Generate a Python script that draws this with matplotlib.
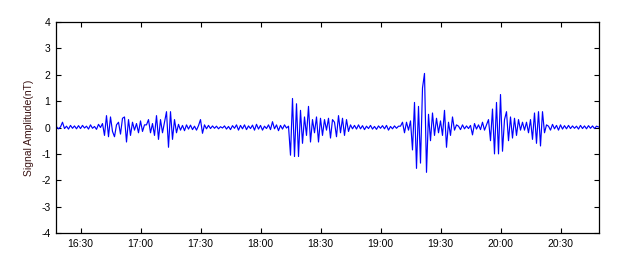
import matplotlib
matplotlib.use("Agg")
import matplotlib.pyplot as plt
import numpy as np
import pandas as pd

# ---- data (1-minute samples starting 16:18) ----
start_time = "2000-01-01 16:18"
sample_minutes = 1

quiet_start = [0.03, -0.05, 0.02, 0.2, -0.04, 0.05, -0.06, 0.08, -0.03, 0.06, -0.05, 0.07,
               -0.04, 0.08, -0.02, 0.05, -0.06, 0.1, -0.03, 0.04, -0.07, 0.12, 0.0]
burst_a = [0.15, -0.3, 0.45, -0.35, 0.4, -0.15, -0.35, 0.1, 0.2, -0.25, 0.35, 0.4,
           -0.55, 0.3, -0.3, 0.2]
gap_ab = [-0.1, 0.15, -0.2, 0.25, -0.15, 0.1]
burst_b = [0.1, 0.3, -0.2, 0.15, -0.3, 0.45, -0.45, 0.3, -0.2, 0.2, 0.6, -0.75,
           0.6, -0.45, 0.3, -0.2]
quiet_bc = [0.12, -0.1, 0.08, -0.12, 0.1, -0.06, 0.09, -0.08, 0.05, -0.1, 0.07, 0.3,
            -0.22, 0.1, -0.05, 0.08, -0.04, 0.06, -0.03, 0.05, -0.05, 0.03, -0.02, 0.06,
            -0.06, 0.04, -0.08, 0.07, -0.03, 0.1, -0.1, 0.08, -0.05, 0.1, -0.08, 0.06,
            -0.04, 0.09, -0.1, 0.12, -0.06, 0.08, -0.1, 0.05, -0.04, 0.1, -0.08, 0.22,
            -0.05, 0.1, -0.12, 0.08, -0.06, 0.1, -0.02]
burst_c = [0.05, -1.05, 1.1, -1.1, 0.9, -1.1, 0.65, -0.6, 0.4, -0.3, 0.8, -0.55,
           0.3, -0.2, 0.4, -0.55, 0.35, -0.3, 0.3, -0.1, 0.35, -0.4, 0.3, 0.2,
           -0.35, 0.45, -0.2, 0.35, -0.3, 0.3, -0.15, 0.1, -0.05]
quiet_cd = [0.08, -0.06, 0.1, -0.05, 0.07, -0.08, 0.05, -0.04, 0.08, -0.06, 0.04, -0.07,
            0.06, -0.03, 0.07, -0.05, 0.08, -0.1, 0.04, -0.05, 0.06, -0.03, 0.05]
burst_d = [0.05, 0.2, -0.2, 0.2, -0.1, 0.25, -0.85, 0.95, -1.55, 0.8, -1.35, 1.5,
           2.05, -1.7, 0.5, -0.5, 0.55, -0.3, 0.35, -0.2, 0.25, -0.3, 0.65, -0.75,
           0.2, -0.3, 0.4, -0.1, 0.1]
quiet_de = [0.05, -0.08, 0.1, -0.05, 0.06, -0.04, 0.08, -0.28, 0.15, -0.06, 0.1, -0.08,
            0.2, -0.1]
burst_e = [0.1, 0.3, -0.5, 0.7, -1.0, 0.95, -1.0, 1.25, -0.9, 0.3, 0.6, -0.5,
           0.4, -0.4, 0.35, -0.3, 0.3, -0.1, 0.2, -0.1, 0.2, -0.2, 0.3, -0.45,
           0.55, -0.6, 0.6, -0.7, 0.6, -0.2, 0.1]
quiet_end = [0.05, -0.1, 0.12, -0.05, 0.08, -0.1, 0.1, -0.06, 0.07, -0.05, 0.08, -0.04,
             0.06, -0.03, 0.05, -0.06, 0.08, -0.04, 0.06, -0.05, 0.07, -0.03, 0.06, -0.04,
             0.05, 0.02]

amplitude = (quiet_start + burst_a + gap_ab + burst_b + quiet_bc + burst_c + quiet_cd
             + burst_d + quiet_de + burst_e + quiet_end)

y_ticks = [-4, -3, -2, -1, 0, 1, 2, 3, 4]
x_tick_labels = ["16:30", "17:00", "17:30", "18:00", "18:30", "19:00", "19:30", "20:00", "20:30"]
x_start = "2000-01-01 16:17:45"
x_end = "2000-01-01 20:49:15"

# ---- plot ----
plt.rcParams['font.family'] = ['Liberation Sans', 'DejaVu Sans']
times = pd.date_range(start_time, periods=len(amplitude), freq=f"{sample_minutes}min")

fig = plt.figure(figsize=(6.3, 2.56), dpi=100)
ax = fig.add_axes([56 / 630, 23 / 256, 543 / 630, 211 / 256])
ax.plot(times, amplitude, color="#0000ff", linewidth=0.85)

ax.set_xlim(pd.Timestamp(x_start), pd.Timestamp(x_end))
ax.set_ylim(-4, 4)
ax.set_yticks(y_ticks)
ax.set_yticklabels([str(v) for v in y_ticks], fontsize=7.5)
tick_times = [pd.Timestamp("2000-01-01 " + s) for s in x_tick_labels]
ax.set_xticks(tick_times)
ax.set_xticklabels(x_tick_labels, fontsize=7.5)
ax.tick_params(direction="in", length=3.5, width=0.8, top=True, right=True, pad=4)
for s in ax.spines.values():
    s.set_linewidth(0.9)
ax.set_ylabel("Signal Amplitude(nT)", fontsize=7.5, color="#3b1414", labelpad=5)

fig.savefig("out.png", dpi=100)
